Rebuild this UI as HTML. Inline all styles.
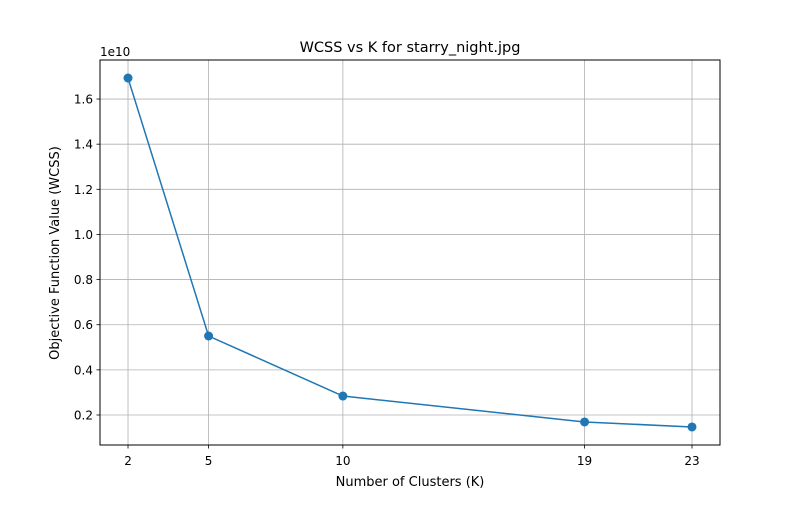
<!DOCTYPE html>
<html><head><meta charset="utf-8"><style>
body{margin:0;background:#fff;}
svg text{font-family:"DejaVu Sans","Liberation Sans",sans-serif;}
</style></head><body>
<svg id="chart" width="800" height="500" xmlns="http://www.w3.org/2000/svg">
<rect width="800" height="500" fill="#fff"/>
<g id="grid"></g>
<g id="ticks"></g>
<g id="series"></g>
<rect x="100" y="60" width="620" height="385" fill="none" stroke="#000" stroke-width="1"/>
<text x="410" y="52" text-anchor="middle" font-size="14.5">WCSS vs K for starry_night.jpg</text>
<text x="410" y="486" text-anchor="middle" font-size="13">Number of Clusters (K)</text>
<text x="0" y="0" transform="translate(59,253) rotate(-90)" text-anchor="middle" font-size="13">Objective Function Value (WCSS)</text>
<text x="100" y="56" font-size="12">1e10</text>
</svg>
<script>
const categories=[2,5,10,19,23];
const values=[1.693,0.55,0.284,0.169,0.147];
const yTicks=[0.2,0.4,0.6,0.8,1.0,1.2,1.4,1.6];
const yTickLabels=["0.2","0.4","0.6","0.8","1.0","1.2","1.4","1.6"];
const NS="http://www.w3.org/2000/svg";
const xMin=0.957,xMax=24.043,yMin=0.067,yMax=1.773;
function xs(v){return 100+(v-xMin)/(xMax-xMin)*620;}
function ys(v){return 445-(v-yMin)/(yMax-yMin)*385;}
function mk(tag,attrs,parent){const e=document.createElementNS(NS,tag);for(const k in attrs)e.setAttribute(k,attrs[k]);parent.appendChild(e);return e;}
const grid=document.getElementById('grid'),ticks=document.getElementById('ticks'),series=document.getElementById('series');
categories.forEach(c=>{
 const x=xs(c);
 const g=mk('line',{x1:x,x2:x,y1:60,y2:445,stroke:'#b0b0b0','stroke-width':0.8},grid);
 
 
 mk('line',{x1:x,x2:x,y1:445,y2:448.5,stroke:'#000','stroke-width':0.8},ticks);
 const t=mk('text',{x:x,y:465,'text-anchor':'middle','font-size':12},ticks);
 t.textContent=c;
 
 
});
yTicks.forEach((v,i)=>{
 const y=ys(v);
 const g=mk('line',{x1:100,x2:720,y1:y,y2:y,stroke:'#b0b0b0','stroke-width':0.8},grid);
 
 
 mk('line',{x1:96.5,x2:100,y1:y,y2:y,stroke:'#000','stroke-width':0.8},ticks);
 const t=mk('text',{x:93,y:y+4.5,'text-anchor':'end','font-size':12},ticks);
 t.textContent=yTickLabels[i];
 
 
});
const pts=categories.map((c,i)=>xs(c)+','+ys(values[i])).join(' ');
const line=mk('polyline',{points:pts,fill:'none',stroke:'#1f77b4','stroke-width':1.5},series);


categories.forEach((c,i)=>{
 const p=mk('circle',{cx:xs(c),cy:ys(values[i]),r:4.5,fill:'#1f77b4'},series);
 
 
});
</script>
</body></html>
